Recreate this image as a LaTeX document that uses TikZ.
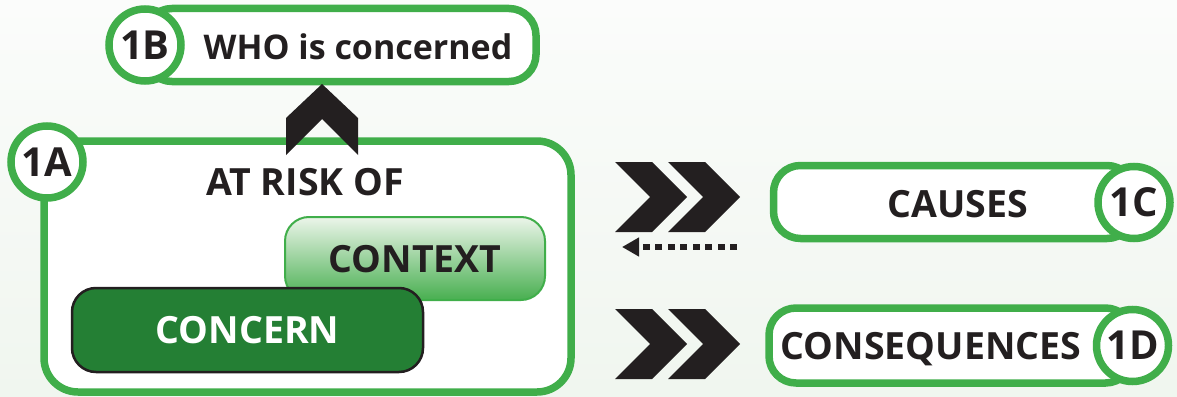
\documentclass[tikz,border=0pt]{standalone}
\usepackage{fontspec}
\setmainfont{Open Sans}
\usepackage{xcolor}
\usepackage{tikz}
\usetikzlibrary{calc,arrows.meta,positioning}

\definecolor{rimgreen}{RGB}{64,174,74}
\definecolor{deepgreen}{RGB}{36,127,52}
\definecolor{inkblack}{RGB}{35,31,32}
\definecolor{backtop}{RGB}{251,252,251}
\definecolor{backbottom}{RGB}{240,246,239}
\definecolor{paletop}{RGB}{236,245,234}
\definecolor{palebottom}{RGB}{72,175,80}

\tikzset{
  rim/.style={draw=rimgreen,line width=7.5pt,fill=white},
  capsule/.style={rim,rectangle,rounded corners=27pt,minimum height=73pt,inner sep=0pt},
  tag/.style={rim,circle,minimum size=72pt,inner sep=0pt,text=inkblack,font=\fontsize{40}{40}\selectfont\bfseries},
  word/.style={text=inkblack,inner sep=0pt,text depth=0pt,font=\fontsize{37.5}{37.5}\selectfont\bfseries},
  chev/.style={fill=inkblack}
}

\begin{document}
\begin{tikzpicture}[x=1pt,y=-1pt,>=stealth]
  \fill[top color=backtop,bottom color=backbottom] (0,0) rectangle (1177,396);
  \useasboundingbox (0,0) rectangle (1177,396);

  \node[capsule,minimum width=391pt] (whobox) at (340.5,45) {};
  \node[tag] (tagB) at (145,45) {1B};
  \node[word,font=\fontsize{34}{34}\selectfont\bfseries] (who) at (358,47) {WHO is concerned};

  \node[rim,rounded corners=34pt,minimum width=527pt,minimum height=251pt,inner sep=0pt] (riskbox) at (307.5,266.5) {};
  \node[tag] (tagA) at (47,162) {1A};
  \node[word] (risk) at (305,182) {AT RISK OF};
  \node[word,draw=rimgreen,line width=2pt,top color=paletop,bottom color=palebottom,rounded corners=24pt,minimum width=260pt,minimum height=83pt] (context) at (415,258.5) {CONTEXT};
  \node[word,text=white,draw=inkblack,line width=2.5pt,fill=deepgreen,rounded corners=24pt,minimum width=351pt,minimum height=84pt] (concern) at (247.5,330) {CONCERN};

  \fill[chev] (322,84) -- (358,118) -- (358,155) -- (322,119) -- (286,155) -- (286,118) -- cycle;

  \foreach \cy in {197,344}
    \foreach \cx in {615,668}
      \fill[chev] (\cx,\cy-35) -- ++(37,0) -- ++(35,35) -- ++(-35,35) -- ++(-37,0) -- ++(35,-35) -- cycle;

  \coordinate (dotstart) at (737,247);
  \coordinate (dotend) at (622,247);
  \draw[inkblack,line width=6pt,dash pattern=on 7pt off 5.5pt,-{Triangle[length=17pt,width=18pt]}] (dotstart) -- (dotend);

  \node[capsule,minimum width=360.5pt] (causesbox) at (953.75,202) {};
  \node[word] (causes) at (958,204) {CAUSES};
  \node[tag] (tagC) at (1134,202.5) {1C};

  \node[capsule,minimum width=363.5pt,minimum height=75pt] (conseqbox) at (950.75,345.5) {};
  \node[word] (conseq) at (931,346) {CONSEQUENCES};
  \node[tag] (tagD) at (1132.5,345.5) {1D};
\end{tikzpicture}
\end{document}
